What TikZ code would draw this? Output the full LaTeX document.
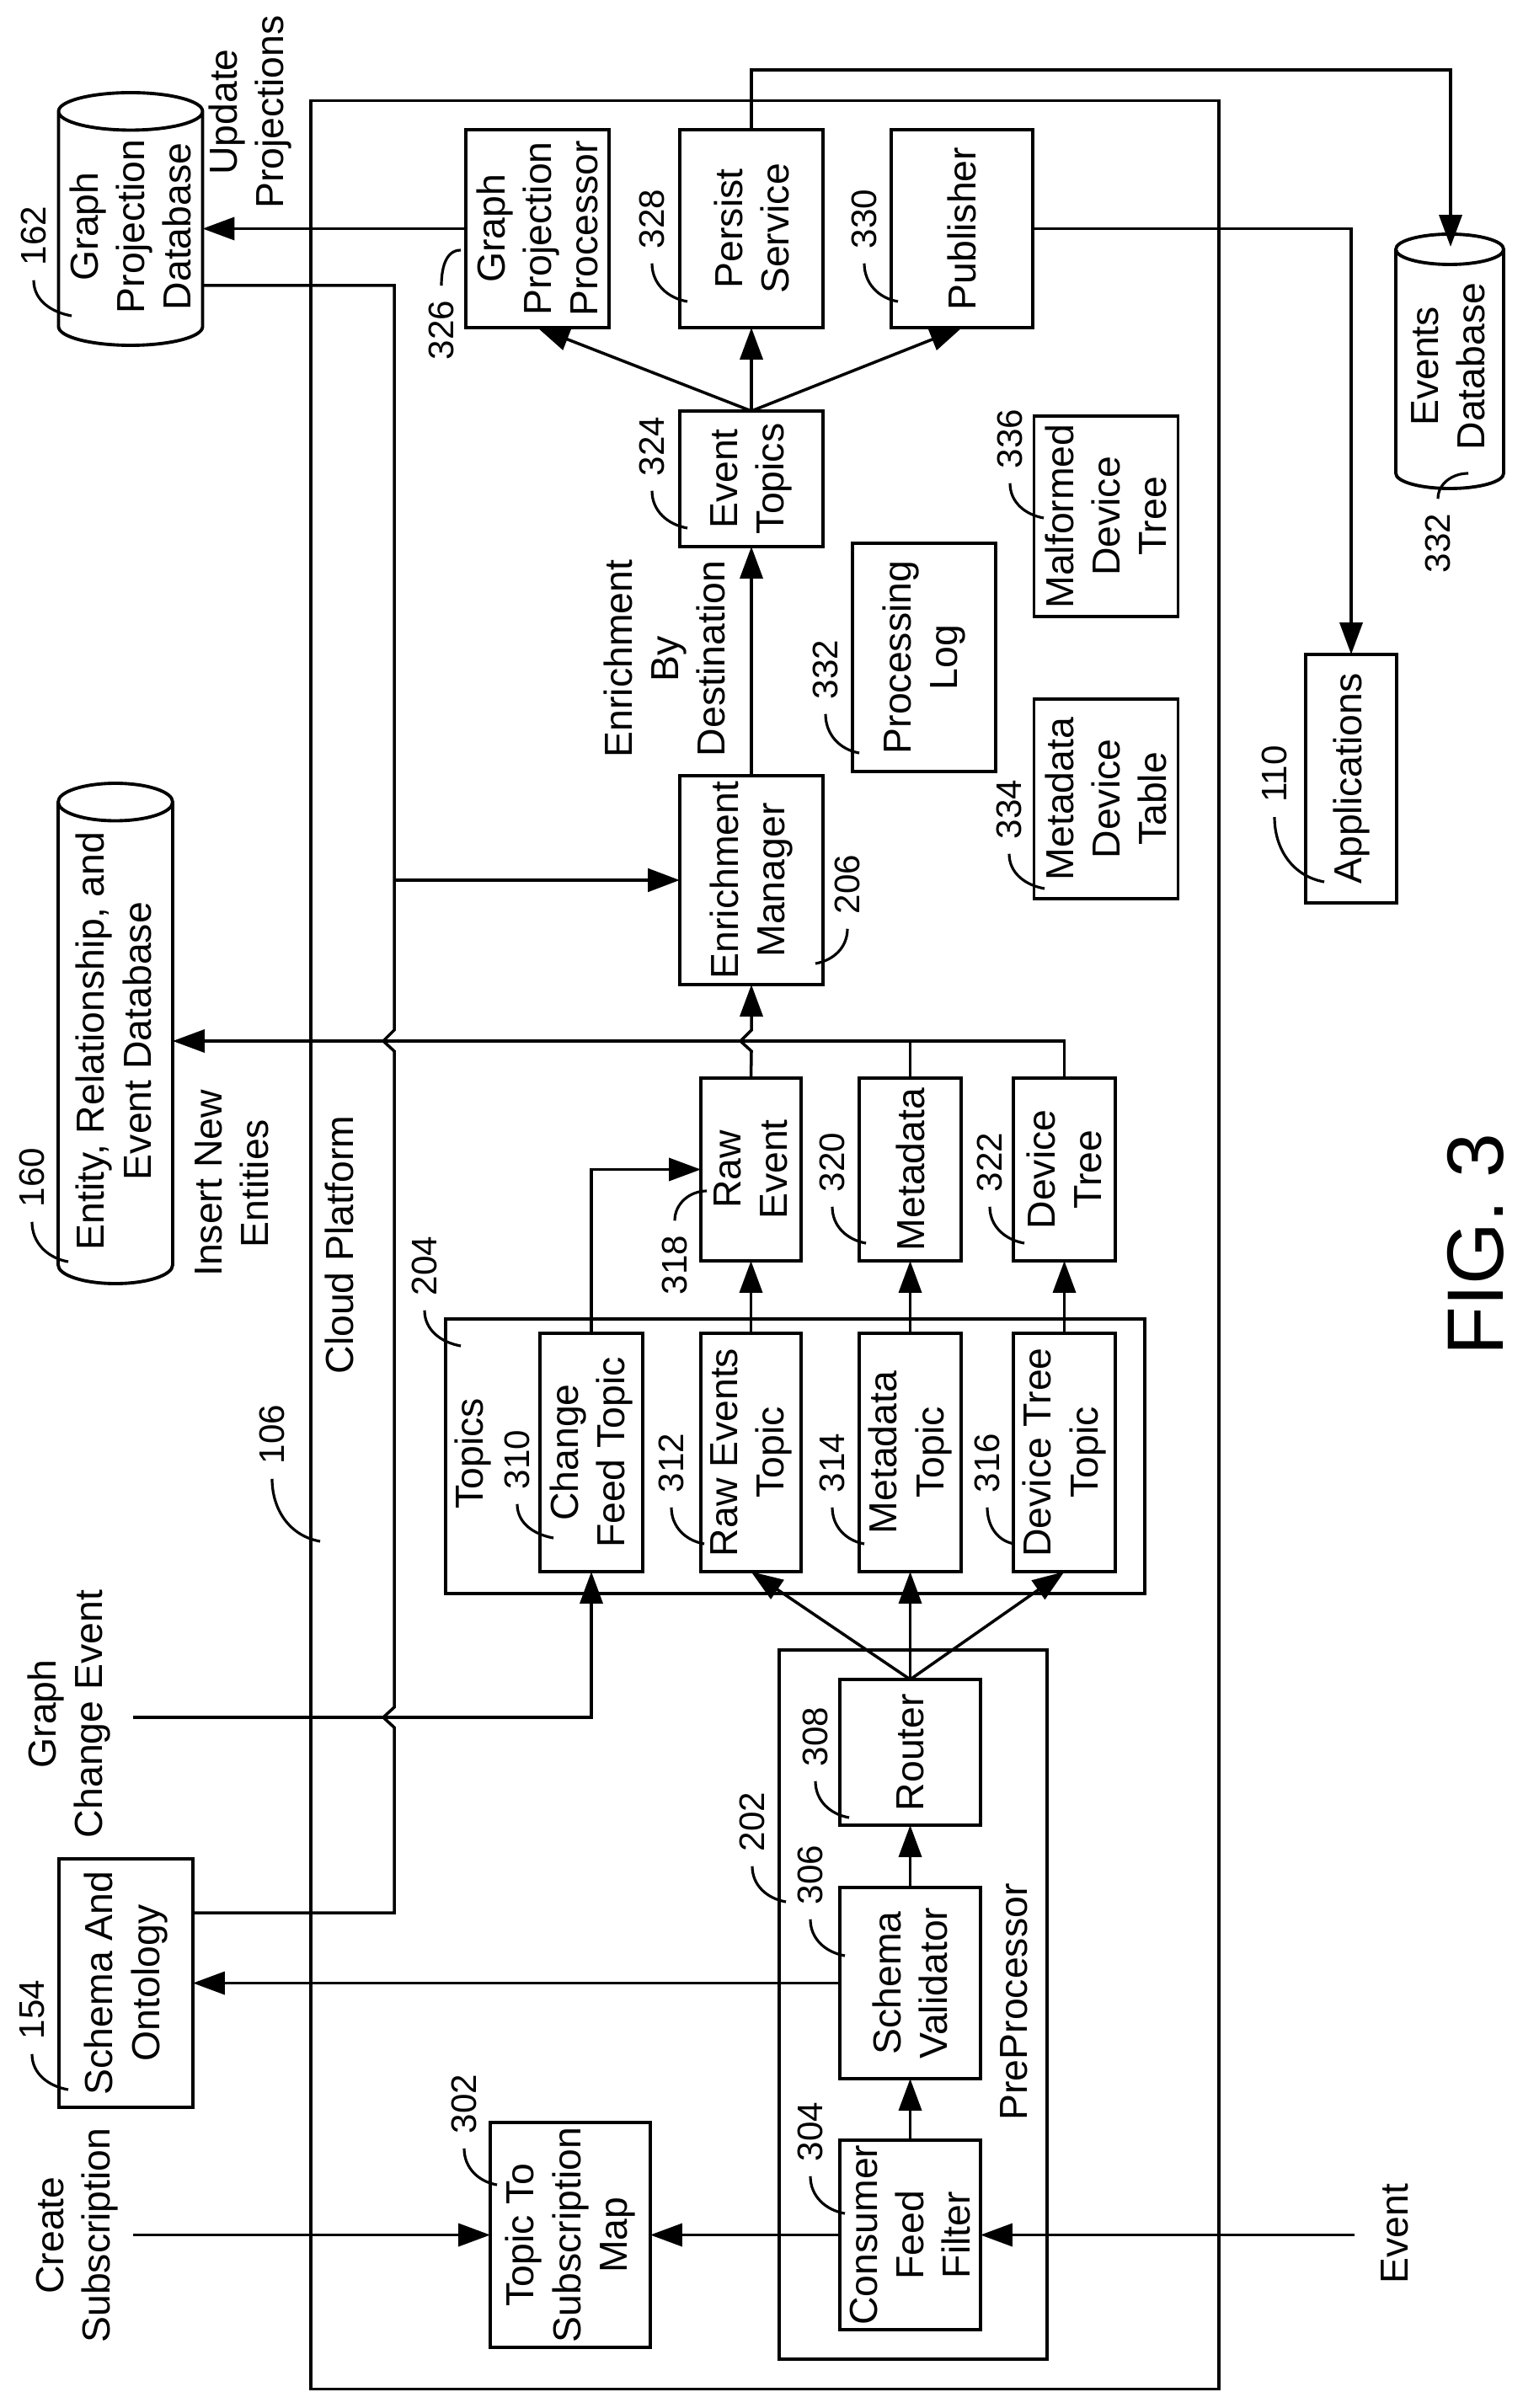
\documentclass[tikz,border=0pt]{standalone}
\usepackage{fontspec}
\setmainfont{Liberation Sans}
\usetikzlibrary{arrows.meta,shapes.geometric}

\tikzset{
	block/.style={rectangle, draw, rotate=90, align=center, text centered, inner sep=0pt, outer sep=0pt, line width=1.1pt, font=\fontsize{13.2}{15.7}\selectfont},
	store/.style={cylinder, draw, rotate=90, anchor=shape center, aspect=0.5, text height=0.89cm, text depth=0pt, inner sep=0pt, outer sep=0pt, line width=1.1pt},
	caption/.style={rotate=90, align=center, inner sep=0pt, font=\fontsize{13.2}{15.7}\selectfont},
	reftag/.style={rotate=90, inner sep=0pt, outer sep=5pt, font=\fontsize{12}{14}\selectfont},
	flow/.style={line width=1pt, -{Triangle[length=10.8pt, width=7.7pt]}},
	wire/.style={line width=1pt},
	lead/.style={line width=0.9pt}
}

\begin{document}
\begin{tikzpicture}
		\useasboundingbox (0,0) rectangle (18.07,-28.59);
		
		%Platform and groups
		\node (platform) at (9.08,-14.78) [rectangle, draw, line width=1.1pt, minimum width=10.78cm, minimum height=27.17cm]{};
		\node (topics) at (9.44,-17.29) [block, minimum width=3.26cm, minimum height=8.30cm]{};
		\node (pre) at (10.84,-23.80) [block, minimum width=8.42cm, minimum height=3.18cm]{};
		
		%Stores
		\node (gpdb) at (1.55,-2.60) [store, minimum height=3.00cm, minimum width=1.71cm]{};
		\node (gpdbtxt) at (1.55,-2.69) [caption]{Graph\\Projection\\Database};
		\node (entdb) at (1.37,-12.27) [store, minimum height=5.94cm, minimum width=1.36cm]{};
		\node (entdbtxt) at (1.35,-12.36) [caption]{Entity, Relationship, and\\Event Database};
		\node (evdb) at (17.21,-4.29) [store, text height=0.72cm, minimum height=3.02cm, minimum width=1.28cm]{};
		\node (evdbtxt) at (17.19,-4.35) [caption]{Events\\Database};
		
		%Top row
		\node (gpp) at (6.38,-2.715) [block, minimum width=2.35cm, minimum height=1.70cm]{Graph\\Projection\\Processor};
		\node (persist) at (8.92,-2.715) [block, minimum width=2.35cm, minimum height=1.70cm]{Persist\\Service};
		\node (pub) at (11.42,-2.715) [block, minimum width=2.35cm, minimum height=1.68cm]{Publisher};
		\node (evt) at (8.92,-5.685) [block, minimum width=1.61cm, minimum height=1.70cm]{Event\\Topics};
		\node (proclog) at (10.97,-7.805) [block, minimum width=2.71cm, minimum height=1.70cm]{Processing\\Log};
		\node (malformed) at (13.13,-6.13) [block, minimum width=2.38cm, minimum height=1.71cm]{Malformed\\Device\\Tree};
		\node (metatable) at (13.13,-9.485) [block, minimum width=2.37cm, minimum height=1.71cm]{Metadata\\Device\\Table};
		\node (apps) at (16.04,-9.245) [block, minimum width=2.95cm, minimum height=1.08cm]{Applications};
		\node (enrich) at (8.92,-10.45) [block, minimum width=2.48cm, minimum height=1.70cm]{Enrichment\\Manager};
		
		%Topic outputs
		\node (rawevent) at (8.915,-13.885) [block, minimum width=2.17cm, minimum height=1.19cm]{Raw\\Event};
		\node (metadata) at (10.805,-13.885) [block, minimum width=2.17cm, minimum height=1.21cm]{Metadata};
		\node (devtree) at (12.635,-13.885) [block, minimum width=2.17cm, minimum height=1.21cm]{Device\\Tree};
		
		%Topics
		\node (cft) at (7.02,-17.245) [block, minimum width=2.83cm, minimum height=1.22cm]{Change\\Feed Topic};
		\node (ret) at (8.915,-17.245) [block, minimum width=2.83cm, minimum height=1.19cm]{Raw Events\\Topic};
		\node (mt) at (10.805,-17.245) [block, minimum width=2.83cm, minimum height=1.21cm]{Metadata\\Topic};
		\node (dtt) at (12.635,-17.245) [block, minimum width=2.83cm, minimum height=1.21cm]{Device Tree\\Topic};
		
		%PreProcessor
		\node (router) at (10.805,-20.805) [block, minimum width=1.73cm, minimum height=1.67cm]{Router};
		\node (validator) at (10.805,-23.545) [block, minimum width=2.27cm, minimum height=1.67cm]{Schema\\Validator};
		\node (filter) at (10.805,-26.535) [block, minimum width=2.25cm, minimum height=1.67cm]{Consumer\\Feed\\Filter};
		
		%Left side
		\node (schema) at (1.495,-23.545) [block, minimum width=2.95cm, minimum height=1.59cm]{Schema And\\Ontology};
		\node (topicmap) at (6.77,-26.535) [block, minimum width=2.67cm, minimum height=1.90cm]{Topic To\\Subscription\\Map};
		
		%Free texts
		\node (update) at (2.97,-1.33) [caption]{Update\\Projections};
		\node (bydest) at (7.89,-7.82) [caption]{Enrichment\\By\\Destination};
		\node (insert) at (2.75,-14.05) [caption]{Insert New\\Entities};
		\node (cloud) at (4.03,-14.78) [caption]{Cloud Platform};
		\node (topicstxt) at (5.61,-17.26) [caption]{Topics};
		\node (pretxt) at (12.04,-23.77) [caption]{PreProcessor};
		\node (graphchange) at (0.82,-20.35) [caption]{Graph\\Change Event};
		\node (create) at (0.92,-26.54) [caption]{Create\\Subscription};
		\node (eventtxt) at (16.56,-26.52) [caption]{Event};
		\node (fig) at (17.52,-14.78) [rotate=90, inner sep=0pt, font=\fontsize{27}{30}\selectfont]{FIG. 3};
		
		%Free ends
		\coordinate (gcsrc) at (1.58,-20.39);
		\coordinate (createsrc) at (1.58,-26.535);
		\coordinate (eventsrc) at (16.08,-26.535);
		\coordinate (evcorner) at (17.22,-0.83);
		\coordinate (evin) at (17.22,-2.93);
		\coordinate (gpcorner) at (4.68,-3.39);
		\coordinate (schcorner) at (4.68,-22.71);
		\coordinate (feedjoin) at (4.68,-10.45);
		\coordinate (entin) at (2.05,-12.36);
		
		%Links
		\draw[flow] (gpp.north) -- (gpp.north -| gpdb.south);
		\draw[flow] (persist.east) |- (evcorner) -- (evin);
		\draw[flow] (pub.south) -| (apps.east);
		\draw[flow] (evt.east) -- (gpp.west);
		\draw[flow] (evt.east) -- (persist.west);
		\draw[flow] (evt.east) -- (pub.west);
		\draw[flow] (enrich.east) -- (evt.west);
		\draw[wire] (gpdb.south |- gpcorner) -- (gpcorner) -- (4.68,-12.23) -- (4.55,-12.36) -- (4.68,-12.48) -- (4.68,-20.27) -- (4.55,-20.39) -- (4.68,-20.51) -- (schcorner) -- (schcorner -| schema.south);
		\draw[flow, line width=1.4pt] (feedjoin) -- (enrich.north);
		\draw[flow] (rawevent.east) -- (8.92,-12.48) -- (8.79,-12.36) -- (8.92,-12.23) -- (enrich.west);
		\draw[flow] (devtree.east) |- (entin);
		\draw[wire] (metadata.east) -- (metadata.east |- entin);
		\draw[flow] (gcsrc) -| (cft.west);
		\draw[flow] (cft.east) |- (rawevent.north);
		\draw[flow] (ret.east) -- (rawevent.west);
		\draw[flow] (mt.east) -- (metadata.west);
		\draw[flow] (dtt.east) -- (devtree.west);
		\draw[flow] (router.east) -- (ret.west);
		\draw[flow] (router.east) -- (mt.west);
		\draw[flow] (router.east) -- (dtt.west);
		\draw[flow] (validator.east) -- (router.west);
		\draw[flow] (filter.east) -- (validator.west);
		\draw[flow] (validator.north) -- (validator.north -| schema.south);
		\draw[flow] (filter.north) -- (topicmap.south);
		\draw[flow] (eventsrc) -- (filter.south);
		\draw[flow] (createsrc) -- (topicmap.north);
		
		%Reference numerals
		\node (t162) at (0.40,-2.80) [reftag]{162};
		\coordinate (e162) at (0.85,-3.75); \draw[lead] (t162.west) to[out=-90,in=170] (e162);
		\node (t326) at (5.24,-3.92) [reftag]{326};
		\coordinate (e326) at (5.47,-2.97); \draw[lead] (t326.east) to[out=90,in=180] (e326);
		\node (t328) at (7.74,-2.60) [reftag]{328};
		\coordinate (e328) at (8.16,-3.58); \draw[lead] (t328.west) to[out=-90,in=170] (e328);
		\node (t330) at (10.26,-2.60) [reftag]{330};
		\coordinate (e330) at (10.66,-3.58); \draw[lead] (t330.west) to[out=-90,in=170] (e330);
		\node (t324) at (7.74,-5.30) [reftag]{324};
		\coordinate (e324) at (8.16,-6.27); \draw[lead] (t324.west) to[out=-90,in=170] (e324);
		\node (t336) at (11.99,-5.21) [reftag]{336};
		\coordinate (e336) at (12.39,-6.15); \draw[lead] (t336.west) to[out=-90,in=170] (e336);
		\node (t332a) at (9.80,-7.95) [reftag]{332};
		\coordinate (e332a) at (10.20,-8.94); \draw[lead] (t332a.west) to[out=-90,in=170] (e332a);
		\node (t334) at (11.98,-9.61) [reftag]{334};
		\coordinate (e334) at (12.40,-10.55); \draw[lead] (t334.west) to[out=-90,in=170] (e334);
		\node (t110) at (15.13,-9.19) [reftag]{110};
		\coordinate (e110) at (15.72,-10.47); \draw[lead] (t110.west) to[out=-90,in=170] (e110);
		\node (t206) at (10.06,-10.50) [reftag]{206};
		\coordinate (e206) at (9.68,-11.44); \draw[lead] (t206.west) to[out=-90,in=10] (e206);
		\node (t332b) at (17.07,-6.45) [reftag]{332};
		\coordinate (e332b) at (17.43,-5.62); \draw[lead] (t332b.east) to[out=90,in=180] (e332b);
		\node (t160) at (0.38,-13.98) [reftag]{160};
		\coordinate (e160) at (0.81,-14.98); \draw[lead] (t160.west) to[out=-90,in=170] (e160);
		\node (t106) at (3.23,-17.03) [reftag]{106};
		\coordinate (e106) at (3.80,-18.30); \draw[lead] (t106.west) to[out=-90,in=170] (e106);
		\node (t204) at (5.04,-15.03) [reftag]{204};
		\coordinate (e204) at (5.47,-15.98); \draw[lead] (t204.west) to[out=-90,in=170] (e204);
		\node (t310) at (6.14,-17.33) [reftag]{310};
		\coordinate (e310) at (6.57,-18.26); \draw[lead] (t310.west) to[out=-90,in=170] (e310);
		\node (t312) at (7.97,-17.37) [reftag]{312};
		\coordinate (e312) at (8.36,-18.33); \draw[lead] (t312.west) to[out=-90,in=170] (e312);
		\node (t314) at (9.88,-17.37) [reftag]{314};
		\coordinate (e314) at (10.26,-18.33); \draw[lead] (t314.west) to[out=-90,in=170] (e314);
		\node (t316) at (11.72,-17.37) [reftag]{316};
		\coordinate (e316) at (12.04,-18.33); \draw[lead] (t316.west) to[out=-90,in=170] (e316);
		\node (t318) at (8.01,-15.02) [reftag]{318};
		\coordinate (e318) at (8.39,-14.14); \draw[lead] (t318.east) to[out=90,in=180] (e318);
		\node (t320) at (9.88,-13.80) [reftag]{320};
		\coordinate (e320) at (10.28,-14.76); \draw[lead] (t320.west) to[out=-90,in=170] (e320);
		\node (t322) at (11.75,-13.80) [reftag]{322};
		\coordinate (e322) at (12.16,-14.76); \draw[lead] (t322.west) to[out=-90,in=170] (e322);
		\node (t202) at (8.93,-21.63) [reftag]{202};
		\coordinate (e202) at (9.33,-22.58); \draw[lead] (t202.west) to[out=-90,in=170] (e202);
		\node (t306) at (9.62,-22.26) [reftag]{306};
		\coordinate (e306) at (10.03,-23.22); \draw[lead] (t306.west) to[out=-90,in=170] (e306);
		\node (t308) at (9.68,-20.62) [reftag]{308};
		\coordinate (e308) at (10.08,-21.58); \draw[lead] (t308.west) to[out=-90,in=170] (e308);
		\node (t304) at (9.62,-25.31) [reftag]{304};
		\coordinate (e304) at (10.03,-26.28); \draw[lead] (t304.west) to[out=-90,in=170] (e304);
		\node (t302) at (5.51,-24.98) [reftag]{302};
		\coordinate (e302) at (5.90,-25.94); \draw[lead] (t302.west) to[out=-90,in=170] (e302);
		\node (t154) at (0.38,-23.86) [reftag]{154};
		\coordinate (e154) at (0.81,-24.81); \draw[lead] (t154.west) to[out=-90,in=170] (e154);
		
\end{tikzpicture}
\end{document}
